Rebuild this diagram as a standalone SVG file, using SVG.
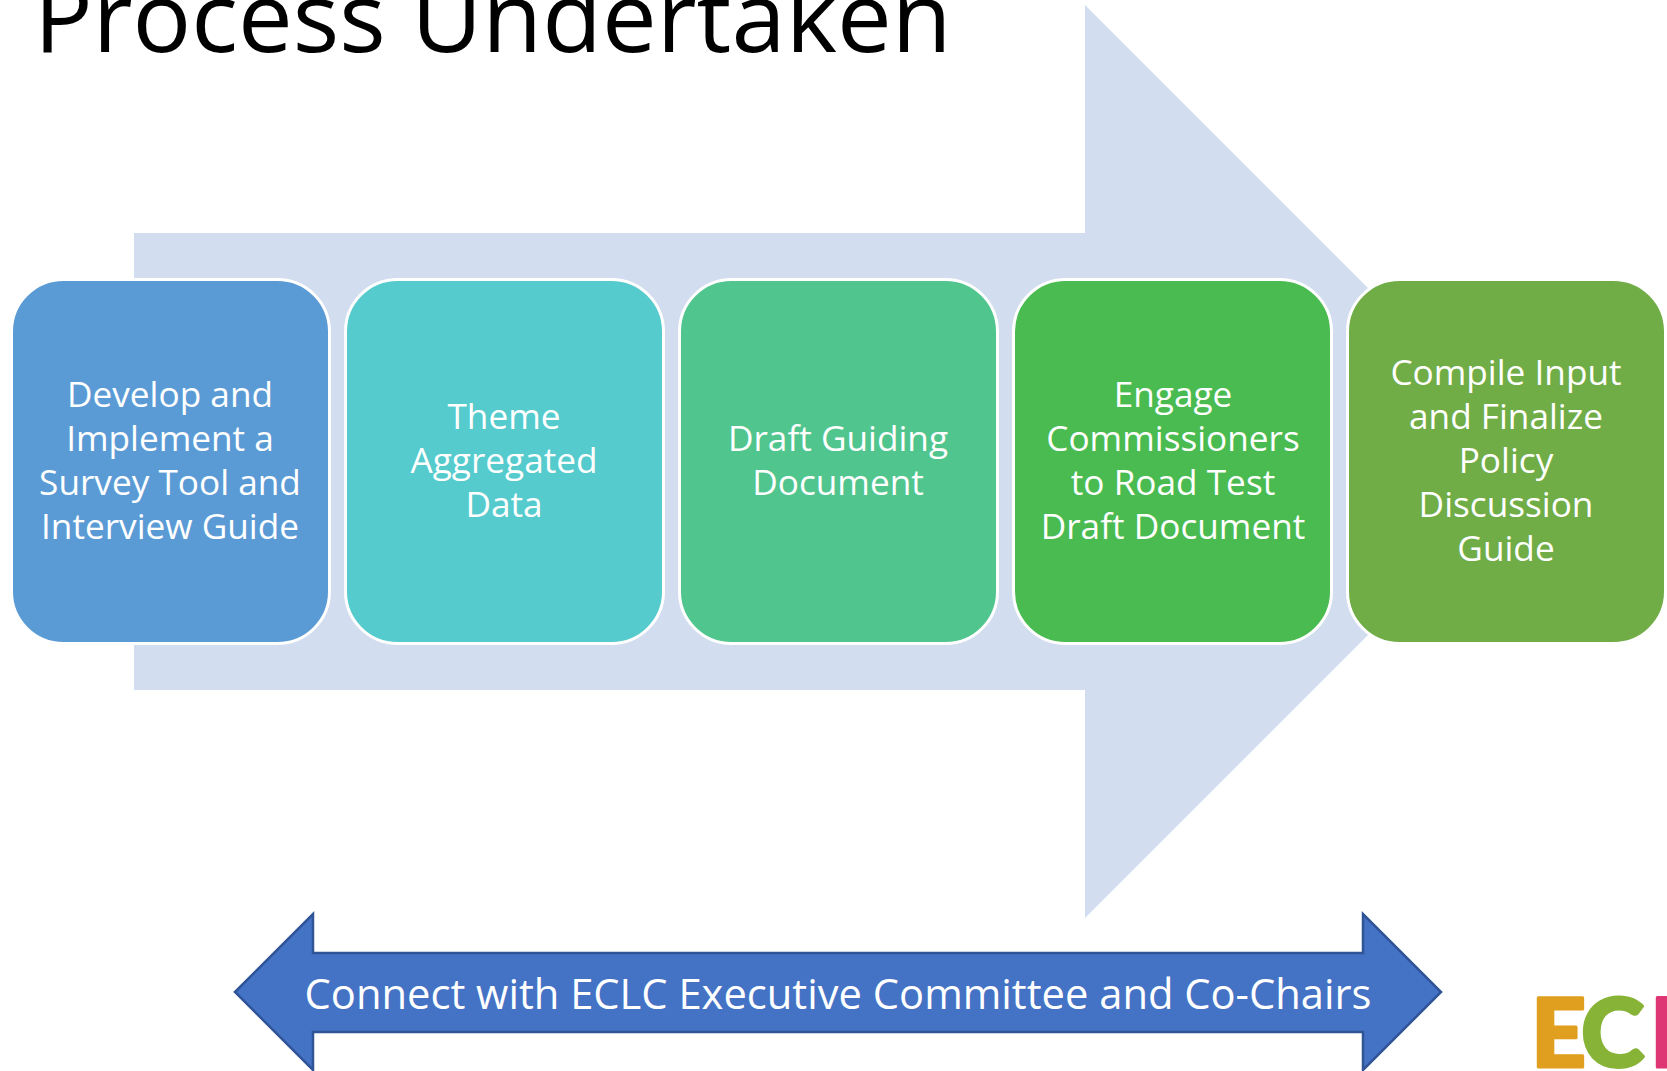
<svg xmlns="http://www.w3.org/2000/svg" width="1667" height="1071" viewBox="0 0 1667 1071">
<style>
.n{stroke:#fff;stroke-width:3}
.t{font-family:"Open Sans","Noto Sans",sans-serif;font-size:35.200px;fill:#fff;text-anchor:middle}
.l{font-family:Lato,"Open Sans",sans-serif;font-weight:900;font-size:96px;stroke-width:3;stroke-linejoin:round}
</style>
<rect width="1667" height="1071" fill="#fff"/>
<text id="title" x="34" y="52" font-family="'Open Sans','Noto Sans',sans-serif" font-size="97.600" fill="#000">Process Undertaken</text>
<path id="process-arrow" d="M134 233H1085V5L1541.500 461.500L1085 918V690H134Z" fill="#d2ddef"/>
<g id="node1"><rect class="n" x="11.500" y="279.500" width="318" height="364" rx="52" fill="#5b9bd5"/><text class="t"><tspan x="170" y="407">Develop and</tspan><tspan x="170" y="451">Implement a</tspan><tspan x="170" y="495">Survey Tool and</tspan><tspan x="170" y="539">Interview Guide</tspan></text></g>
<g id="node2"><rect class="n" x="345.500" y="279.500" width="318" height="364" rx="52" fill="#55cbcd"/><text class="t"><tspan x="504" y="429">Theme</tspan><tspan x="504" y="473">Aggregated</tspan><tspan x="504" y="517">Data</tspan></text></g>
<g id="node3"><rect class="n" x="679.500" y="279.500" width="318" height="364" rx="52" fill="#50c58e"/><text class="t"><tspan x="838" y="451">Draft Guiding</tspan><tspan x="838" y="495">Document</tspan></text></g>
<g id="node4"><rect class="n" x="1013.500" y="279.500" width="318" height="364" rx="52" fill="#4abb50"/><text class="t"><tspan x="1173" y="407">Engage</tspan><tspan x="1173" y="451">Commissioners</tspan><tspan x="1173" y="495">to Road Test</tspan><tspan x="1173" y="539">Draft Document</tspan></text></g>
<g id="node5"><rect class="n" x="1347.500" y="279.500" width="318" height="364" rx="52" fill="#70ad47"/><text class="t"><tspan x="1506" y="385">Compile Input</tspan><tspan x="1506" y="429">and Finalize</tspan><tspan x="1506" y="473">Policy</tspan><tspan x="1506" y="517">Discussion</tspan><tspan x="1506" y="561">Guide</tspan></text></g>
<g id="connect-arrow"><path d="M235 992L313 914V953H1363V914L1441 992L1363 1070V1032H313V1070Z" fill="#4472c4" stroke="#2f5597" stroke-width="2.500"/><text class="t" x="838" y="1009" style="font-size:41.700px">Connect with ECLC Executive Committee and Co-Chairs</text></g>
<g id="logo"><text class="l" x="1531" y="1067" fill="#e09f1f" stroke="#e09f1f">E</text><text class="l" x="1581" y="1067" fill="#87b336" stroke="#87b336">C</text><text class="l" x="1650" y="1067" fill="#de3575" stroke="#de3575">L</text></g>
</svg>
